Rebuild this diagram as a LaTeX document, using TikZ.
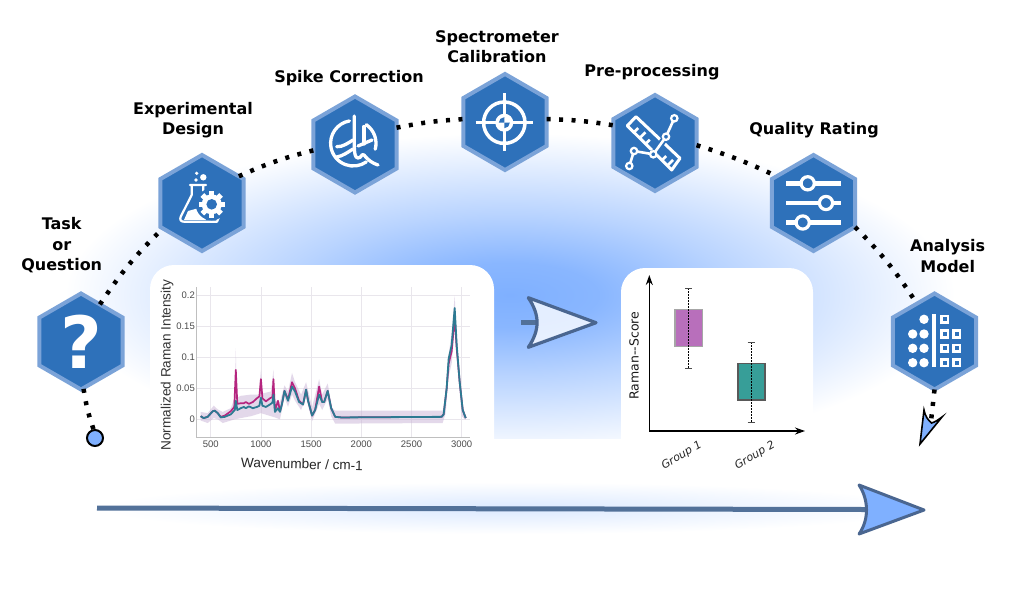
\documentclass[tikz,border=0pt]{standalone}
\usepackage{fontspec}
\setmainfont{DejaVu Sans}
\newfontfamily\plotfont{Liberation Sans}
\usetikzlibrary{shapes.geometric,arrows.meta}
\definecolor{glowblue}{HTML}{7FB0FF}
\definecolor{hexfill}{HTML}{2E71BA}
\definecolor{hexedge}{HTML}{7BA3D8}
\definecolor{shaftblue}{HTML}{527199}
\definecolor{headedge}{HTML}{4A6690}
\definecolor{gridc}{HTML}{E9E6EC}
\definecolor{bandc}{HTML}{C9B3D6}
\definecolor{magentac}{HTML}{B5257F}
\definecolor{tealc}{HTML}{2D7A92}
\definecolor{boxa}{HTML}{B86FBB}
\definecolor{boxb}{HTML}{379E98}
\pgfdeclareradialshading{glowmain}{\pgfpointorigin}{color(0bp)=(glowblue); color(5bp)=(glowblue!92!white); color(12.5bp)=(glowblue!55!white); color(20bp)=(glowblue!22!white); color(25bp)=(white); color(50bp)=(white)}
\pgfdeclareradialshading{glowlow}{\pgfpointorigin}{color(0bp)=(glowblue!28!white); color(12.5bp)=(glowblue!14!white); color(25bp)=(white); color(50bp)=(white)}
\tikzset{
  hexnode/.style={regular polygon,regular polygon sides=6,shape border rotate=30,minimum size=96pt,inner sep=0pt,outer sep=0pt,fill=hexfill,draw=hexedge,line width=4pt},
  steplabel/.style={font=\bfseries\fontsize{16}{20.5}\selectfont,align=center,inner sep=0pt,text=black},
  dotline/.style={line width=4.5pt,dash pattern=on 4pt off 8.5pt,black},
  icon/.style={white,line width=3.3pt,line cap=round,line join=round},
  tickx/.style={font=\plotfont\fontsize{9.5}{11}\selectfont,text=black!70,inner sep=0pt},
  panel/.style={fill=white,rounded corners=24pt},
  whisk/.style={black,line width=1.5pt,dash pattern=on 1.5pt off 1.5pt},
  capline/.style={black!70,line width=1pt},
  bigshaft/.style={line width=5pt,shaftblue},
}
\begin{document}
\begin{tikzpicture}[x=1pt,y=-1pt]
\useasboundingbox (0,0) rectangle (1024,614);
% glows
\begin{scope}
\clip (0,0) rectangle (1024,438);
\shade[shading=glowmain] (510,295) ellipse (445 and 162);
\end{scope}
\shade[shading=glowlow] (510,508) ellipse (410 and 26);
% panels
\fill[panel] (150,470) rectangle (494,265);
\fill[panel] (621,470) rectangle (813,268);
% spectrum
\begin{scope}
\draw[gridc,line width=.8pt] (196.3,419.3) -- (470,419.3) (196.3,388.4) -- (470,388.4) (196.3,357.5) -- (470,357.5) (196.3,326.6) -- (470,326.6) (196.3,295.7) -- (470,295.7);
\draw[gridc,line width=.8pt] (210.7,287) -- (210.7,437.3) (260.9,287) -- (260.9,437.3) (311.1,287) -- (311.1,437.3) (361.3,287) -- (361.3,437.3) (411.5,287) -- (411.5,437.3) (461.7,287) -- (461.7,437.3);
\draw[black!25,line width=.8pt] (196.3,287) -- (196.3,437.3) -- (470,437.3);
\end{scope}
\begin{scope}[shift={(160.5,419.3)},x=0.1004pt,y=618pt]
\fill[bandc,opacity=.5,line join=round] (400,.012) -- (470,.01) -- (530,.022) -- (570,.016) -- (620,.012) -- (700,.018) -- (740,.035) -- (750,.115) -- (760,.035) -- (800,.038) -- (900,.04) -- (980,.04) -- (1000,.08) -- (1020,.042) -- (1100,.045) -- (1125,.08) -- (1140,.03) -- (1190,.028) -- (1235,.055) -- (1270,.045) -- (1310,.075) -- (1340,.06) -- (1400,.04) -- (1450,.06) -- (1510,.02) -- (1580,.065) -- (1610,.04) -- (1665,.058) -- (1710,.018) -- (1740,.014) -- (2810,.014) -- (2830,.02) -- (2870,.105) -- (2900,.14) -- (2930,.2) -- (2950,.135) -- (3000,.03) -- (3040,.004) -- (3040,-.001) -- (3000,.005) -- (2950,.1) -- (2930,.15) -- (2900,.09) -- (2870,.07) -- (2840,.01) -- (2810,-.006) -- (1740,-.007) -- (1700,.005) -- (1665,.033) -- (1610,.015) -- (1580,.025) -- (1510,-.003) -- (1450,.035) -- (1400,.015) -- (1340,.03) -- (1310,.04) -- (1270,.02) -- (1235,.035) -- (1190,0) -- (1140,.003) -- (1100,.005) -- (1000,.01) -- (900,.005) -- (800,.002) -- (740,0) -- (620,-.006) -- (570,0) -- (530,.002) -- (470,-.006) -- (400,-.002) -- cycle;
\draw[magentac,line width=1.7pt,line join=round] (400,.005) -- (430,.002) -- (470,.004) -- (520,.013) -- (540,.014) -- (570,.01) -- (600,.004) -- (640,.006) -- (700,.013) -- (735,.02) -- (750,.08) -- (765,.025) -- (800,.026) -- (830,.026) -- (850,.028) -- (880,.025) -- (920,.028) -- (960,.034) -- (985,.037) -- (1000,.065) -- (1015,.034) -- (1050,.029) -- (1090,.034) -- (1115,.036) -- (1125,.065) -- (1140,.014) -- (1170,.03) -- (1190,.013) -- (1210,.025) -- (1235,.046) -- (1270,.032) -- (1310,.06) -- (1340,.05) -- (1380,.03) -- (1420,.024) -- (1450,.048) -- (1470,.03) -- (1510,.006) -- (1540,.015) -- (1580,.053) -- (1610,.028) -- (1630,.028) -- (1665,.046) -- (1700,.018) -- (1740,.004) -- (1800,.003) -- (2800,.004) -- (2820,.008) -- (2850,.05) -- (2870,.09) -- (2900,.11) -- (2930,.165) -- (2950,.115) -- (2980,.06) -- (3010,.015) -- (3040,.002);
\draw[tealc,line width=1.8pt,line join=round] (400,.005) -- (430,.002) -- (470,.004) -- (520,.013) -- (540,.014) -- (570,.01) -- (600,.003) -- (640,.004) -- (700,.008) -- (740,.015) -- (750,.03) -- (765,.015) -- (800,.018) -- (830,.02) -- (850,.018) -- (880,.021) -- (920,.018) -- (960,.02) -- (985,.022) -- (1000,.035) -- (1015,.022) -- (1050,.02) -- (1090,.024) -- (1115,.027) -- (1125,.04) -- (1140,.012) -- (1170,.018) -- (1190,.012) -- (1210,.025) -- (1235,.046) -- (1270,.03) -- (1310,.053) -- (1340,.045) -- (1380,.028) -- (1420,.024) -- (1450,.048) -- (1470,.03) -- (1510,.006) -- (1540,.015) -- (1580,.04) -- (1610,.028) -- (1630,.028) -- (1665,.046) -- (1700,.018) -- (1740,.004) -- (1800,.003) -- (2800,.004) -- (2820,.008) -- (2850,.05) -- (2870,.098) -- (2900,.12) -- (2930,.18) -- (2950,.12) -- (2980,.06) -- (3010,.015) -- (3040,.002);
\end{scope}
\foreach \n/\t/\y in {ya/0/419.3,yb/0.05/388.4,yc/0.1/357.5,yd/0.15/326.6,ye/0.2/295.7}
  \node[tickx,anchor=east] (\n) at (195,\y) {\t};
\foreach \n/\t/\x in {xa/500/210.7,xb/1000/260.9,xc/1500/311.1,xd/2000/361.3,xe/2500/411.5,xf/3000/461.7}
  \node[tickx] (\n) at (\x,444) {\t};
\node[font=\plotfont\fontsize{13.6}{15}\selectfont,text=black!80,rotate=90,inner sep=0pt] (ytitle) at (167,365) {Normalized Raman Intensity};
\node[font=\plotfont\fontsize{13.6}{15}\selectfont,text=black!85,rotate=-1.5,inner sep=0pt] (xtitle) at (302,464) {Wavenumber / cm-1};
% boxplot
\coordinate (orig) at (649.3,431);
\coordinate (ytop) at (649.3,275);
\coordinate (xend) at (805,431);
\draw[black,line width=1.5pt,-{Stealth[length=10pt,width=7pt]}] (orig) -- (ytop);
\draw[black,line width=1.5pt,-{Stealth[length=10pt,width=7pt]}] (orig) -- (xend);
\draw[fill=boxa,draw=black!35,line width=1.2pt] (675,309.3) rectangle (702.3,346.7);
\draw[fill=boxb,draw=black!65,line width=1.2pt] (738,363.7) rectangle (765,400);
\draw[whisk] (688.7,288.3) -- (688.7,368.3);
\draw[whisk] (751.3,342) -- (751.3,422);
\draw[capline] (685,288.3) -- (692.4,288.3) (685,368.3) -- (692.4,368.3) (747.6,342) -- (755,342) (747.6,422) -- (755,422);
\node[font=\fontsize{12.5}{15}\selectfont,text=black!90,rotate=90,inner sep=0pt] (rscore) at (634,355.7) {Raman-{}-Score};
\node[font=\itshape\fontsize{11}{13}\selectfont,text=black!85,rotate=30,inner sep=0pt] (g1) at (681.7,455.7) {Group 1};
\node[font=\itshape\fontsize{11}{13}\selectfont,text=black!85,rotate=30,inner sep=0pt] (g2) at (755,455.7) {Group 2};
% middle arrow
\coordinate (ms) at (521,322.7);
\coordinate (mh) at (538.3,322.7);
\coordinate (mt) at (596,322.7);
\draw[line width=5pt,shaftblue] (ms) -- (mh);
\draw[fill=white,fill opacity=.78,draw=headedge,line width=3.2pt,line join=round] (528.3,297.7) .. controls (540,315) and (540,330) .. (528.3,347.3) -- (mt) -- cycle;
% bottom arrow
\coordinate (bs) at (97,508);
\coordinate (bh) at (868,509.5);
\coordinate (bt) at (924,510);
\draw[bigshaft] (bs) -- (bh);
\draw[fill=glowblue,draw=headedge,line width=3pt,line join=round] (859,485) .. controls (869,500) and (869,520) .. (859,534) -- (bt) -- cycle;
% hexagons
\node[hexnode] (q) at (81,341.5) {};
\node[hexnode] (e) at (202,203) {};
\node[hexnode] (s) at (355,144.5) {};
\node[hexnode] (c) at (505,122) {};
\node[hexnode] (p) at (655,143) {};
\node[hexnode] (r) at (813.5,203) {};
\node[hexnode] (a) at (934.5,341.5) {};
% connectors
\node[circle,draw=black,fill=glowblue,line width=2pt,minimum size=16pt,inner sep=0pt] (start) at (95,438) {};
\coordinate (endc) at (931,421);
\draw[dotline] (start.100) to[bend left=5] (q.-87);
\draw[dotline] (q.63) to[bend left=6] (e.-147);
\draw[dotline] (e.36) to[bend left=5] (s.-172);
\draw[dotline] (s.22) to[bend left=4] (c.176);
\draw[dotline] (c.4) to[bend left=4] (p.157);
\draw[dotline] (p.-3) to[bend left=4] (r.144);
\draw[dotline] (r.-30) to[bend left=6] (a.115);
\draw[dotline] (a.-90) -- (endc);
\draw[fill=glowblue,draw=black,line width=1.6pt,line join=miter] (924,410) .. controls (925,416) and (928,420) .. (931.5,423) .. controls (935,422) and (938,420) .. (942,417) -- (920,444) -- cycle;
% labels
\node[steplabel] (lq) at (61.7,245.5) {Task\\or\\Question};
\node[steplabel] (le) at (193,120) {Experimental\\Design};
\node[steplabel] (ls) at (349,78.5) {Spike Correction};
\node[steplabel] (lc) at (497,46.5) {Spectrometer\\Calibration};
\node[steplabel] (lp) at (652,72.5) {Pre-processing};
\node[steplabel] (lr) at (814,130.5) {Quality Rating};
\node[steplabel] (la) at (947.7,256) {Analysis\\Model};
% icon: question
\node[font=\bfseries\fontsize{72}{72}\selectfont,text=white,inner sep=0pt] (qm) at (81,341.5) {?};
% icon: flask
\fill[white] (188,211) -- (199,208) -- (206,220) -- (184,220) -- cycle;
\draw[white,line width=2.2pt,line join=round,line cap=round] (190,185) -- (206,185) (203.3,185) -- (203.3,194) (191.7,185) -- (191.7,195) -- (180.7,216.7) .. controls (179.5,220) and (181,221.7) .. (184,221.7) -- (217,221.7) -- (219,217);
\fill[hexfill] (211.7,204.3) circle (16);
\begin{scope}[shift={(211.7,204.3)}]
\foreach \a in {0,45,90,135}
  \fill[white,rotate=\a] (-2.6,-13.2) rectangle (2.6,13.2);
\fill[white] (0,0) circle (10);
\fill[hexfill] (0,0) circle (5.3);
\end{scope}
\fill[white] (196.7,173.3) circle (1.8) (203.3,177.3) circle (3.2) (196,180) circle (1.9);
% icon: spike
\draw[icon] (353.3,143.3) ++(-100:22.7) arc[start angle=-100,end angle=-305,radius=22.7];
\draw[icon] (353.3,143.3) ++(-55:22.7) arc[start angle=-55,end angle=15,radius=22.7];
\draw[icon] (354.3,116) -- (354.3,145) .. controls (354.3,153) and (355,158) .. (358,158) .. controls (362,158) and (361,153) .. (364,155) .. controls (368,160) and (372,163) .. (378,165);
\draw[icon] (336.7,146.7) .. controls (343,147) and (348,143) .. (353,140);
\draw[icon] (336.7,157) .. controls (343,156) and (348,152) .. (353,149);
\draw[icon] (358,146) -- (372,140);
\draw[icon] (364,126.5) -- (364,144);
% icon: target
\draw[white,line width=3.5pt] (504.3,122.7) circle (20.7);
\draw[white,line width=3.3pt] (475.7,122.7) -- (533.3,122.7) (504.3,93.3) -- (504.3,150.7);
\fill[white] (504.3,122.7) circle (9);
\fill[hexfill] (504.3,122.7) -- (498.8,122.7) arc[start angle=180,end angle=270,radius=5.5] -- cycle;
\fill[hexfill] (504.3,122.7) -- (509.8,122.7) arc[start angle=0,end angle=90,radius=5.5] -- cycle;
% icon: ruler and chart
\draw[white,line width=3pt,line join=round] (636,116.7) -- (627.3,125.7) -- (671.7,170) -- (680,158.3) -- cycle;
\draw[white,line width=2.6pt] (634,132.3) -- (638.2,128.1) (639.7,138.1) -- (645.4,132.4) (645.5,143.9) -- (649.7,139.7) (662,160.3) -- (666.2,156.1) (667.3,165.6) -- (673,159.9);
\draw[hexfill,line width=6.5pt] (634,151) -- (653.3,154.3) -- (666,136.7) -- (674.3,118.3);
\draw[white,line width=2.6pt,line join=round] (629.3,166) -- (634,151) -- (653.3,154.3) -- (666,136.7) -- (674.3,118.3);
\draw[white,fill=hexfill,line width=2.2pt] (629.3,166) circle (3.2) (634,151) circle (3.2) (653.3,154.3) circle (3.2) (666,136.7) circle (3.2) (674.3,118.3) circle (3.2);
% icon: sliders
\draw[white,line width=4.4pt] (786,183.3) -- (841,183.3) (786,203) -- (841,203) (786,222.5) -- (841,222.5);
\draw[white,fill=hexfill,line width=3.2pt] (807.7,183.3) circle (6.6) (826,203) circle (6.6) (802.7,222.5) circle (6.6);
% icon: analysis model
\fill[white] (924,319.3) circle (4.7) (912.7,334) circle (4.7) (924,334) circle (4.7) (912.7,348.3) circle (4.7) (924,348.3) circle (4.7) (912.7,362.7) circle (4.7) (924,362.7) circle (4.7);
\draw[white,line width=3.5pt] (934,314) -- (934,367.3);
\foreach \x/\y in {944.7/319.3,944.7/334,956.7/334,944.7/348.3,956.7/348.3,944.7/362.7,956.7/362.7}{
  \fill[white] (\x-4.7,\y-4.7) rectangle (\x+4.7,\y+4.7);
  \fill[hexfill] (\x-2,\y-2) rectangle (\x+2,\y+2);
}
\end{tikzpicture}
\end{document}
